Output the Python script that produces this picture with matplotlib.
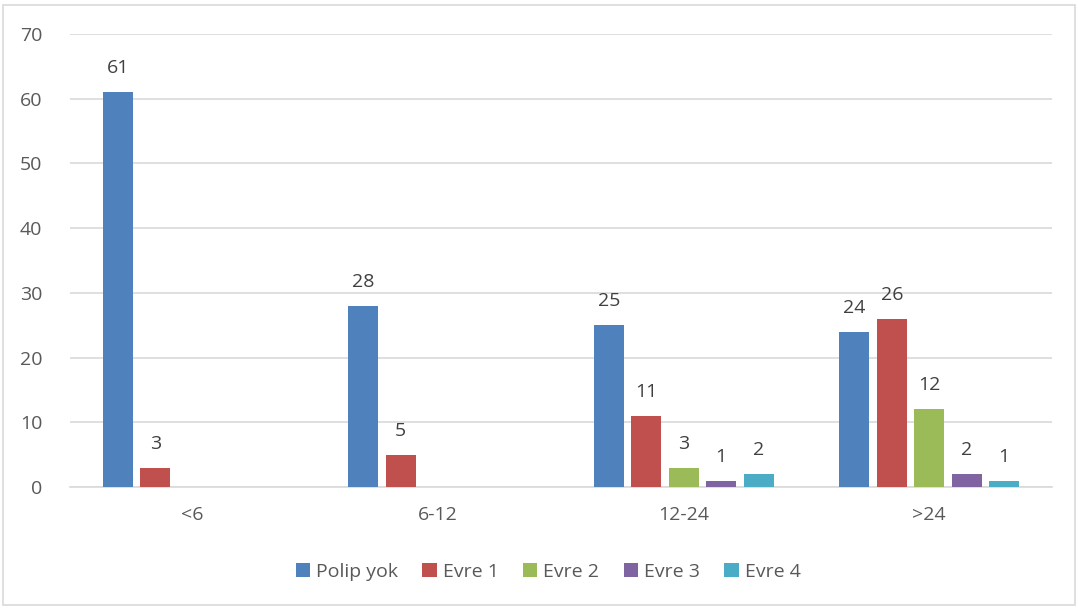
import matplotlib
matplotlib.use("Agg")
import matplotlib.pyplot as plt
import numpy as np
from matplotlib.patches import Rectangle

categories = ["<6", "6-12", "12-24", ">24"]
series_names = ["Polip yok", "Evre 1", "Evre 2", "Evre 3", "Evre 4"]
polip_yok = [61, 28, 25, 24]
evre1 = [3, 5, 11, 26]
evre2 = [0, 0, 3, 12]
evre3 = [0, 0, 1, 2]
evre4 = [0, 0, 2, 1]
colors = ["#4f81bd", "#c0504d", "#9bbb59", "#8064a2", "#4bacc6"]
yticks = [0, 10, 20, 30, 40, 50, 60, 70]

series = [polip_yok, evre1, evre2, evre3, evre4]

plt.rcParams['font.family'] = ['Open Sans', 'DejaVu Sans']
fig = plt.figure(figsize=(10.78, 6.08), dpi=100)
ax = fig.add_axes([70/1078, 1-487/608, (1052-70)/1078, (487-34)/608])

x = np.arange(len(categories))
step = 0.1525
width = 0.122
for i, (vals, name, c) in enumerate(zip(series, series_names, colors)):
    pos = x + (i - 2) * step
    v = np.array(vals, dtype=float)
    v_plot = np.where(v == 0, np.nan, v)
    ax.bar(pos, v_plot, width, color=c, label=name, zorder=3)
    for p, val in zip(pos, vals):
        if val:
            ax.text(p, val + 2.3, str(val), ha='center', va='bottom',
                    fontsize=14, color='#404040')

ax.set_xlim(-0.5, 3.5)
ax.set_ylim(0, 70)
ax.set_yticks(yticks)
ax.set_xticks(x)
ax.set_xticklabels(categories)
ax.tick_params(axis='both', length=0, labelsize=14, colors='#595959')
ax.tick_params(axis='y', pad=20)
ax.tick_params(axis='x', pad=14)
ax.grid(axis='y', color='#d9d9d9', linewidth=1.2, zorder=0)
for s in ['top', 'right', 'left']:
    ax.spines[s].set_visible(False)
ax.spines['bottom'].set_color('#d9d9d9')
ax.spines['bottom'].set_linewidth(1.2)

ax.legend(loc='center', bbox_to_anchor=(548/1078, 1-572/608),
          bbox_transform=fig.transFigure, ncol=5, frameon=False,
          fontsize=14, handlelength=0.75, handleheight=0.75,
          handletextpad=0.3, columnspacing=1.25, labelcolor='#595959')

fig.patches.append(Rectangle((3/1078, 3/608), 1-6/1078, 1-8/608,
                             transform=fig.transFigure, fill=False,
                             edgecolor='#d9d9d9', linewidth=1.2))

fig.savefig("out.png", dpi=100)
